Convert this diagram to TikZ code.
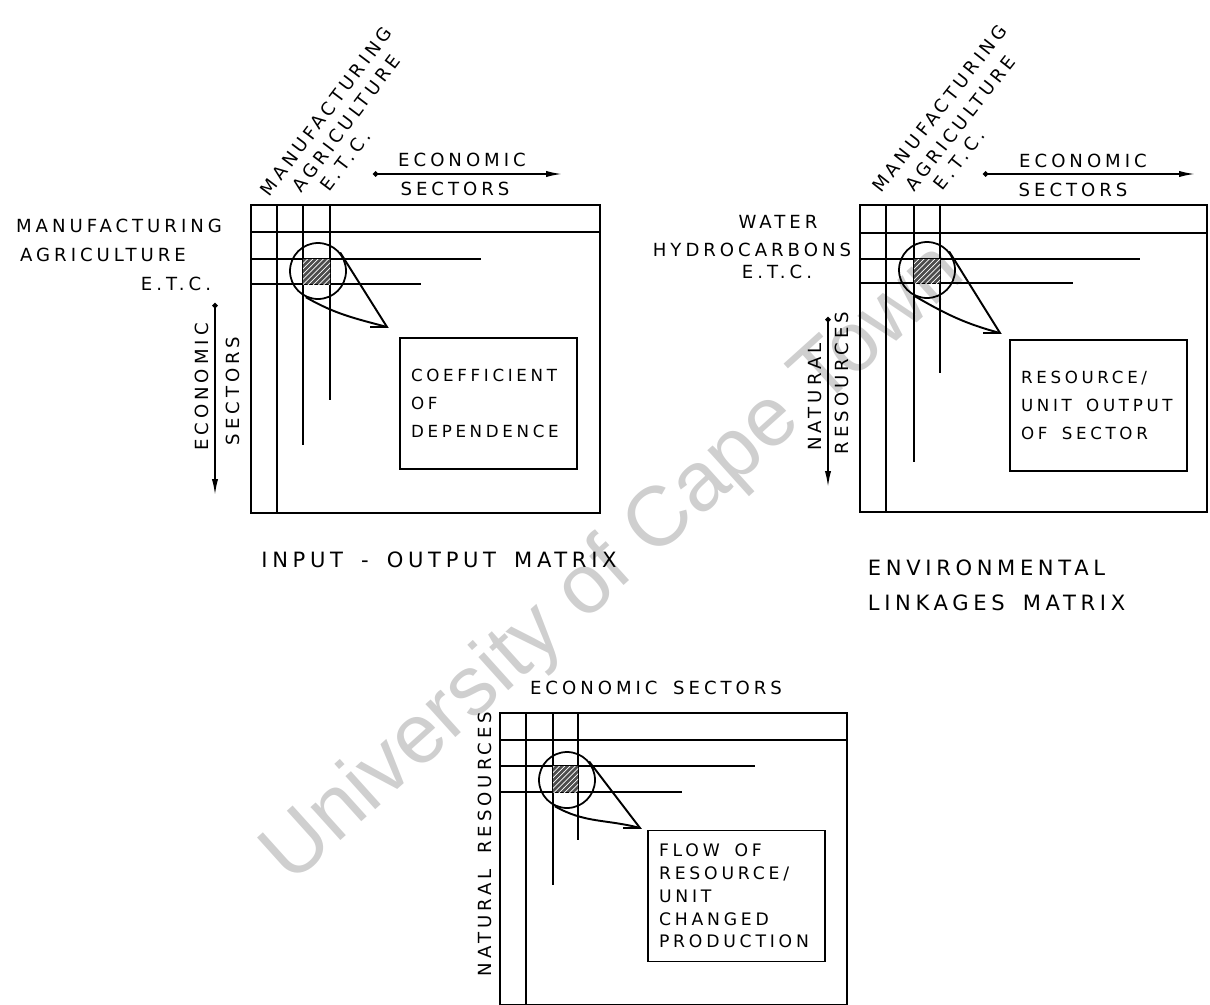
\documentclass[tikz,border=0pt]{standalone}
\usepackage{fontspec}
\setmainfont{DejaVu Sans}
\newfontfamily\handfont[LetterSpace=22,WordSpace=1.6]{DejaVu Sans}
\newfontfamily\wmfont{Liberation Sans}
\usepackage{tikz}
\usetikzlibrary{arrows.meta}
\usetikzlibrary{patterns}

\begin{document}
\begin{tikzpicture}[
    x=0.02cm, y=-0.02cm,
    line width=1.1pt,
    lab/.style={
        font=\handfont\fontsize{10.3}{12}\selectfont,
        inner sep=0pt
    },
    capt/.style={
        font=\handfont\fontsize{12}{20}\selectfont,
        inner sep=0pt
    },
    note/.style={
        draw,
        font=\handfont\fontsize{9.5}{16}\selectfont,
        align=flush left,
        inner xsep=0.22cm,
        text width=3.1cm,
        minimum width=3.54cm,
        minimum height=2.62cm
    },
    lens/.style={
        circle,
        draw,
        line width=1pt,
        inner sep=0pt,
        minimum size=1.12cm
    },
    cell/.style={
        fill=black!70,
        postaction={pattern=north east lines, pattern color=white}
    },
    arr/.style={
        {Circle[length=3pt]}-{Latex[length=9pt,width=3.5pt]},
        line width=0.9pt
    },
    wmark/.style={
        font=\wmfont\fontsize{48}{48}\selectfont,
        text=black!19,
        rotate=42
    }
]
\clip (0,0) rectangle (1210,1004);
\useasboundingbox (0,0) rectangle (1210,1004);

% Watermark
\node[wmark] (wm) at (615,565) {University of Cape Town};

% Input-output matrix
\begin{scope}[shift={(251,205)}]
    \draw (0,0) rectangle (349,308);
    \draw (26,0) -- (26,308);
    \draw (52,0) -- (52,240);
    \draw (79,0) -- (79,195);
    \draw (0,27) -- (349,27);
    \draw (0,54) -- (230,54);
    \draw (0,79) -- (170,79);
    \fill[cell] (52,54) rectangle (79,79);
    \node[lens] (ioc) at (67,66) {};
    \coordinate (iot) at (136,122);
    \draw (ioc.-115) to[out=-30,in=165] (iot);
    \draw (ioc.40) -- (iot) -- ++(-17,0);
    \node[note] (iob) at (237.5,198.5) {COEFFICIENT\\OF\\DEPENDENCE};
\end{scope}

% Column headings
\node[lab,rotate=53,anchor=south west] (iom) at (270,199) {MANUFACTURING};
\node[lab,rotate=53,anchor=south west] (ioa) at (302,195) {AGRICULTURE};
\node[lab,rotate=53,anchor=south west] (ioe) at (330,194) {E.T.C.};

% Row headings
\node[lab] (iorm) at (119,226) {MANUFACTURING};
\node[lab] (iora) at (103,255) {AGRICULTURE};
\node[lab] (iore) at (176,284) {E.T.C.};

% Sector arrows
\coordinate (ioh1) at (373,174);
\coordinate (ioh2) at (562,174);
\draw[arr] (ioh1) -- (ioh2);
\node[lab] (ioec) at (462,160) {ECONOMIC};
\node[lab] (iose) at (455,189) {SECTORS};
\coordinate (iov1) at (215,303);
\coordinate (iov2) at (215,495);
\draw[arr] (iov1) -- (iov2);
\node[lab,rotate=90] (ioec2) at (202,387) {ECONOMIC};
\node[lab,rotate=90] (iose2) at (233,391) {SECTORS};

\node[capt] (iocap) at (439,560) {INPUT - OUTPUT MATRIX};

% Environmental linkages matrix
\begin{scope}[shift={(860,205)}]
    \draw (0,0) rectangle (347,307);
    \draw (26,0) -- (26,307);
    \draw (54,0) -- (54,257);
    \draw (80,0) -- (80,168);
    \draw (0,28) -- (347,28);
    \draw (0,54) -- (280,54);
    \draw (0,78) -- (213,78);
    \fill[cell] (54,54) rectangle (80,78);
    \node[lens] (elc) at (67,65) {};
    \coordinate (elt) at (140,128);
    \draw (elc.-115) to[out=-30,in=165] (elt);
    \draw (elc.40) -- (elt) -- ++(-17,0);
    \node[note] (elb) at (238.5,200.5) {RESOURCE/\\UNIT OUTPUT\\OF SECTOR};
\end{scope}

% Column headings
\node[lab,rotate=52,anchor=south west] (elm) at (882,195) {MANUFACTURING};
\node[lab,rotate=52,anchor=south west] (ela) at (915,194) {AGRICULTURE};
\node[lab,rotate=52,anchor=south west] (ele) at (943,193) {E.T.C.};

% Row headings
\node[lab] (elrw) at (778,222) {WATER};
\node[lab,anchor=east] (elrh) at (852,250) {HYDROCARBONS};
\node[lab] (elre) at (777,272) {E.T.C.};

% Sector and resource arrows
\coordinate (elh1) at (983,174);
\coordinate (elh2) at (1195,174);
\draw[arr] (elh1) -- (elh2);
\node[lab] (elec) at (1083,161) {ECONOMIC};
\node[lab] (else) at (1073,190) {SECTORS};
\coordinate (elv1) at (828,317);
\coordinate (elv2) at (828,487);
\draw[arr] (elv1) -- (elv2);
\node[lab,rotate=90] (elna) at (815,397) {NATURAL};
\node[lab,rotate=90] (elre2) at (842,383) {RESOURCES};

\node[capt,anchor=west] (elcap1) at (867,568) {ENVIRONMENTAL};
\node[capt,anchor=west] (elcap2) at (867,603) {LINKAGES MATRIX};

% Resource flow matrix
\begin{scope}[shift={(500,713)}]
    \draw (0,0) rectangle (347,292);
    \draw (26,0) -- (26,292);
    \draw (53,0) -- (53,172);
    \draw (78,0) -- (78,127);
    \draw (0,27) -- (347,27);
    \draw (0,53) -- (255,53);
    \draw (0,79) -- (182,79);
    \fill[cell] (53,53) rectangle (78,79);
    \node[lens] (rfc) at (67,67) {};
    \coordinate (rft) at (140,115);
    \draw (rfc.-115) to[out=-30,in=165] (rft);
    \draw (rfc.40) -- (rft) -- ++(-17,0);
    \node[note,font=\handfont\fontsize{9.8}{13}\selectfont] (rfb) at (236.5,183)
        {FLOW OF\\RESOURCE/\\UNIT\\CHANGED\\PRODUCTION};
\end{scope}

\node[lab] (rfec) at (656,688) {ECONOMIC SECTORS};
\node[lab,rotate=90] (rfna) at (485,844) {NATURAL RESOURCES};

\end{tikzpicture}
\end{document}
